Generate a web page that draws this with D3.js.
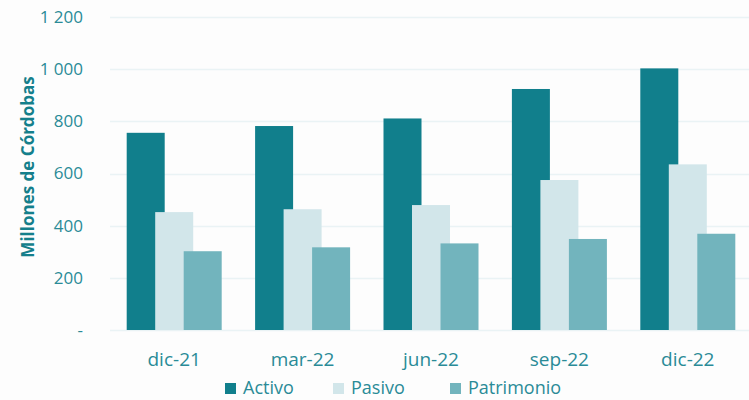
<!DOCTYPE html>
<html>
<head>
<meta charset='utf-8'>
<style>
  body { margin: 0; background: #fdfdfd; }
  text { font-family: 'Open Sans', sans-serif; }
</style>
<script src='https://d3js.org/d3.v7.min.js'></script>
</head>
<body>
<div id="container"></div>
<script>
  // ******* Data *******
  const periods = ["dic-21", "mar-22", "jun-22", "sep-22", "dic-22"];
  const series = ["Activo", "Pasivo", "Patrimonio"];
  const activo = [756, 782, 811, 924, 1003];
  const pasivo = [452, 463, 479, 575, 635];
  const patrimonio = [302, 317, 332, 349, 369];
  const yTicks = [0, 200, 400, 600, 800, 1000, 1200];
  const colors = ["#117f8c", "#d2e6ea", "#72b4bd"];

  const width = 749, height = 400;
  const margin = { top: 17, bottom: 70, left: 110, right: -3 };
  const textColor = "#2a8b97";

  const values = [activo, pasivo, patrimonio];

  const svg = d3.select("#container").append("svg")
    .attr("width", width)
    .attr("height", height);

  const x = d3.scaleBand()
    .domain(periods)
    .range([margin.left, width - margin.right])
    .paddingInner(0).paddingOuter(0);

  const y = d3.scaleLinear()
    .domain([0, 1200])
    .range([height - margin.bottom, margin.top]);

  // gridlines
  svg.append("g")
    .selectAll("line")
    .data(yTicks)
    .join("line")
    .attr("x1", margin.left)
    .attr("x2", width - margin.right)
    .attr("y1", d => Math.round(y(d)) + 0.5)
    .attr("y2", d => Math.round(y(d)) + 0.5)
    .attr("stroke", "#eaf3f5")
    .attr("stroke-width", 1.5);

  // y axis labels
  svg.append("g")
    .selectAll("text")
    .data(yTicks)
    .join("text")
    .attr("x", 83)
    .attr("y", d => y(d))
    .attr("dy", "0.35em")
    .attr("text-anchor", "end")
    .attr("fill", textColor)
    .style("font-size", "17px")
    .text(d => d === 0 ? "-" : d3.format(",")(d).replace(",", " "));

  // y axis title
  svg.append("text")
    .attr("transform", `translate(34, 167) rotate(-90)`)
    .attr("text-anchor", "middle")
    .attr("fill", "#157f8b")
    .style("font-size", "17px")
    .style("font-weight", "bold")
    .text("Millones de Córdobas");

  // bars: width 38, step 28.5 between series (overlapping)
  const barW = 38, barStep = 28.5;
  series.forEach((s, i) => {
    svg.append("g")
      .selectAll("rect")
      .data(periods.map((p, j) => ({ p, v: values[i][j] })))
      .join("rect")
      .attr("x", d => x(d.p) + x.bandwidth() / 2 - (barW + 2 * barStep) / 2 + i * barStep)
      .attr("y", d => y(d.v))
      .attr("width", barW)
      .attr("height", d => y(0) - y(d.v))
      .attr("fill", colors[i]);
  });

  // x labels
  svg.append("g")
    .selectAll("text")
    .data(periods)
    .join("text")
    .attr("x", d => x(d) + x.bandwidth() / 2)
    .attr("y", 366)
    .attr("text-anchor", "middle")
    .attr("fill", textColor)
    .style("font-size", "19px")
    .text(d => d);

  // legend
  const legendX = [225, 333, 450];
  const legend = svg.append("g")
    .selectAll("g")
    .data(series)
    .join("g")
    .attr("transform", (d, i) => `translate(${legendX[i]}, 383)`);
  legend.append("rect")
    .attr("width", 11).attr("height", 11)
    .attr("fill", (d, i) => colors[i]);
  legend.append("text")
    .attr("x", 18).attr("y", 11)
    .attr("fill", textColor)
    .style("font-size", "18px")
    .text(d => d);
</script>
</body>
</html>
